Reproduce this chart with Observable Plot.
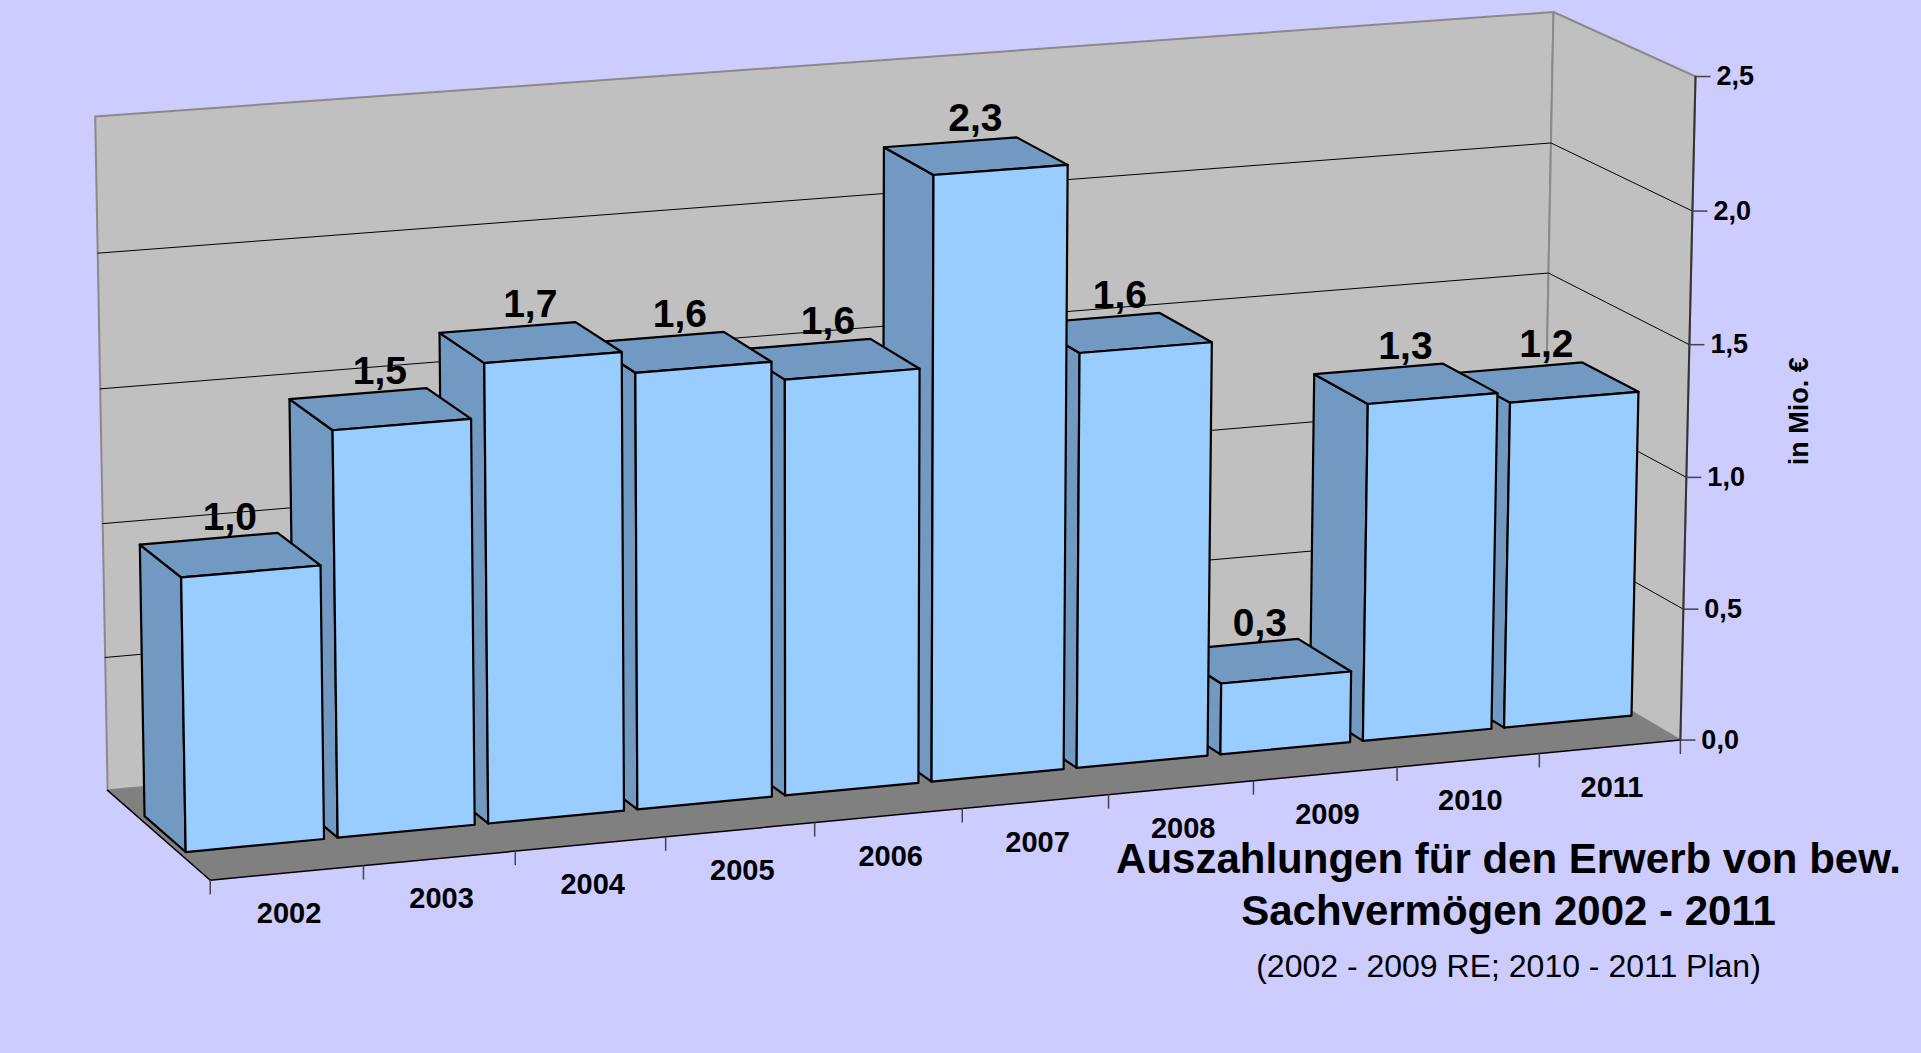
<!DOCTYPE html>
<html>
<head>
<meta charset="utf-8">
<script src="https://cdn.jsdelivr.net/npm/d3@7"></script>
<script src="https://cdn.jsdelivr.net/npm/@observablehq/plot@0.6"></script>
<style>
  html, body { margin: 0; padding: 0; background: #CCCCFF; }
  #chart { width: 1921px; height: 1053px; overflow: hidden; }
</style>
</head>
<body>
<div id="chart"></div>
<script>
// ---------- data ----------
const years = ["2002", "2003", "2004", "2005", "2006", "2007", "2008", "2009", "2010", "2011"];
const values = [1.01, 1.50, 1.70, 1.62, 1.55, 2.26, 1.56, 0.27, 1.28, 1.24];
const valueTicks = [0, 0.5, 1, 1.5, 2, 2.5];
const gridValues = [0.5, 1, 1.5, 2];
const titleLines = ["Auszahlungen für den Erwerb von bew.", "Sachvermögen 2002 - 2011"];
const subtitle = "(2002 - 2009 RE; 2010 - 2011 Plan)";
const unitLabel = "in Mio. €";

// ---------- layout / view ----------
const W = 1921, H = 1053;
const vMax = 2.5;
const nCat = years.length;
const barInset = 0.045, barFront = 0.3, barBack = 0.7;
const FRONT = "#99CCFF", SIDE = "#7299C2", WALL = "#C0C0C0", FLOOR = "#808080";

// perspective camera: world (category x, value v, depth z: 0 front .. 1 back) -> view
const viewAnchors = [
  [0, 0, 0, 210, 880], [2, 0, 0, 515, 851], [4, 0, 0, 814, 822], [6, 0, 0, 1108, 794],
  [8, 0, 0, 1395, 766.5], [10, 0, 0, 1681, 739],
  [10, 1, 0, 1686, 477], [10, 2.5, 0, 1695, 76],
  [0, 0, 1, 107, 790], [0, 2, 1, 98, 252], [0, 2.5, 1, 94, 116], [10, 2.5, 1, 1553, 12]
];
function fitCamera(pts) {
  const rows = [], rhs = [];
  for (const [X, V, Z, u, w] of pts) {
    const x = X / 10, y = V / 2.5, z = Z, uu = u / 1000, ww = w / 1000;
    rows.push([x, y, z, 1, 0, 0, 0, 0, -uu * x, -uu * y, -uu * z]); rhs.push(uu);
    rows.push([0, 0, 0, 0, x, y, z, 1, -ww * x, -ww * y, -ww * z]); rhs.push(ww);
  }
  const n = 11;
  const M = Array.from({length: n}, () => new Array(n + 1).fill(0));
  rows.forEach((r, k) => {
    for (let i = 0; i < n; i++) {
      for (let j = 0; j < n; j++) M[i][j] += r[i] * r[j];
      M[i][n] += r[i] * rhs[k];
    }
  });
  for (let c = 0; c < n; c++) {
    let p = c;
    for (let r = c + 1; r < n; r++) if (Math.abs(M[r][c]) > Math.abs(M[p][c])) p = r;
    [M[c], M[p]] = [M[p], M[c]];
    for (let r = 0; r < n; r++) {
      if (r === c) continue;
      const f = M[r][c] / M[c][c];
      for (let k = c; k <= n; k++) M[r][k] -= f * M[c][k];
    }
  }
  const q = M.map((row, i) => row[n] / row[i]);
  return (X, V, Z) => {
    const x = X / 10, y = V / 2.5, z = Z;
    const d = q[8] * x + q[9] * y + q[10] * z + 1;
    return [1000 * (q[0] * x + q[1] * y + q[2] * z + q[3]) / d,
            1000 * (q[4] * x + q[5] * y + q[6] * z + q[7]) / d];
  };
}
const P = fitCamera(viewAnchors);
const pt = (x, v, z, extra = {}) => { const [px, py] = P(x, v, z); return {px, py, ...extra}; };
const poly = (id, fill, corners) => corners.map(([x, v, z]) => pt(x, v, z, {id, fill}));

// ---------- derived geometry ----------
const backWall = poly("back", WALL, [[0, 0, 1], [10, 0, 1], [10, vMax, 1], [0, vMax, 1]]);
const sideWall = poly("side", WALL, [[10, 0, 1], [10, 0, 0], [10, vMax, 0], [10, vMax, 1]]);
const floor = poly("floor", FLOOR, [[0, 0, 0], [10, 0, 0], [10, 0, 1], [0, 0, 1]]);
const floorEdge = [pt(0, 0, 1), pt(0, 0, 0), pt(10, 0, 0)];
const grid = gridValues.flatMap(g => [pt(0, g, 1, {id: g}), pt(10, g, 1, {id: g}), pt(10, g, 0, {id: g})]);
const axisLine = [pt(10, 0, 0), pt(10, vMax, 0)];
const axisTicks = valueTicks.map(t => pt(10, t, 0, {label: t.toFixed(1).replace(".", ",")}));
const catTicks = d3.range(nCat + 1).map(k => pt(k, 0, 0));

const barFaces = [];
for (let i = nCat - 1; i >= 0; --i) {
  const x0 = i + barInset, x1 = i + 1 - barInset, v = values[i];
  barFaces.push(...poly(years[i] + "-side", SIDE, [[x0, 0, barBack], [x0, 0, barFront], [x0, v, barFront], [x0, v, barBack]]));
  barFaces.push(...poly(years[i] + "-top", SIDE, [[x0, v, barFront], [x1, v, barFront], [x1, v, barBack], [x0, v, barBack]]));
  barFaces.push(...poly(years[i] + "-front", FRONT, [[x0, 0, barFront], [x1, 0, barFront], [x1, v, barFront], [x0, v, barFront]]));
}
const valueLabels = years.map((y, i) => pt(i + 0.5, values[i], (barFront + barBack) / 2, {label: values[i].toFixed(1).replace(".", ",")}));
const yearLabels = years.map((y, i) => pt(i + 0.5, 0, 0, {label: y}));
const unitAnchor = [pt(10, vMax / 2, 0, {label: unitLabel})];

const chart = Plot.plot({
  width: W, height: H, margin: 0,
  x: {domain: [0, W], range: [0, W], axis: null},
  y: {domain: [0, H], range: [0, H], axis: null},
  color: {type: "identity"},
  style: {background: "#CCCCFF", fontFamily: "'Liberation Sans', Arial, Helvetica, sans-serif", overflow: "visible"},
  marks: [
    Plot.line(backWall, {x: "px", y: "py", z: "id", fill: "fill", stroke: "#8a8a8a", strokeWidth: 2, curve: "linear-closed"}),
    Plot.line(sideWall, {x: "px", y: "py", z: "id", fill: "fill", stroke: "#8a8a8a", strokeWidth: 2, curve: "linear-closed"}),
    Plot.line(grid, {x: "px", y: "py", z: "id", stroke: "#000", strokeWidth: 1}),
    Plot.line(floor, {x: "px", y: "py", z: "id", fill: "fill", stroke: "none", curve: "linear-closed"}),
    Plot.line(floorEdge, {x: "px", y: "py", stroke: "#000", strokeWidth: 1.5}),
    Plot.link(catTicks, {x1: "px", y1: "py", x2: "px", y2: d => d.py + 14, stroke: "#444", strokeWidth: 1.5}),
    Plot.line(axisLine, {x: "px", y: "py", stroke: "#333", strokeWidth: 2}),
    Plot.link(axisTicks, {x1: "px", y1: "py", x2: d => d.px + 15, y2: "py", stroke: "#444", strokeWidth: 1.5}),
    Plot.line(barFaces, {x: "px", y: "py", z: "id", fill: "fill", stroke: "#000", strokeWidth: 2.2, strokeLinejoin: "round", curve: "linear-closed"}),
    Plot.text(valueLabels, {x: "px", y: "py", text: "label", lineAnchor: "bottom", dy: -25, dx: 0, fontSize: 39, fontWeight: "bold", fill: "#000", ariaLabel: "value labels"}),
    Plot.text(yearLabels, {x: "px", y: "py", text: "label", lineAnchor: "bottom", dy: 50, dx: 2, fontSize: 29, fontWeight: "bold", fill: "#000", ariaLabel: "year labels"}),
    Plot.text(axisTicks, {x: "px", y: "py", text: "label", textAnchor: "start", dx: 21, fontSize: 27, fontWeight: "bold", fill: "#000", ariaLabel: "axis labels"}),
    Plot.text(unitAnchor, {x: "px", y: "py", text: "label", rotate: -90, dx: 111, fontSize: 27, fontWeight: "bold", fill: "#000", ariaLabel: "unit label"}),
    Plot.text([titleLines[0]], {text: d => d, frameAnchor: "top-left", textAnchor: "middle", dx: 1508, dy: 872, lineAnchor: "bottom", fontSize: 42, fontWeight: "bold", fill: "#000"}),
    Plot.text([titleLines[1]], {text: d => d, frameAnchor: "top-left", textAnchor: "middle", dx: 1508, dy: 924, lineAnchor: "bottom", fontSize: 42, fontWeight: "bold", fill: "#000"}),
    Plot.text([subtitle], {text: d => d, frameAnchor: "top-left", textAnchor: "middle", dx: 1508, dy: 976, lineAnchor: "bottom", fontSize: 32, fill: "#000"})
  ]
});
// tracked spacing on the numeric labels, as in the reference
d3.select(chart).selectAll('g[aria-label="value labels"] text').attr("letter-spacing", "3.5");
d3.select(chart).selectAll('g[aria-label="year labels"] text').attr("letter-spacing", "3");
d3.select(chart).selectAll('g[aria-label="axis labels"] text').attr("letter-spacing", "3");
document.getElementById("chart").append(chart);
</script>
</body>
</html>
